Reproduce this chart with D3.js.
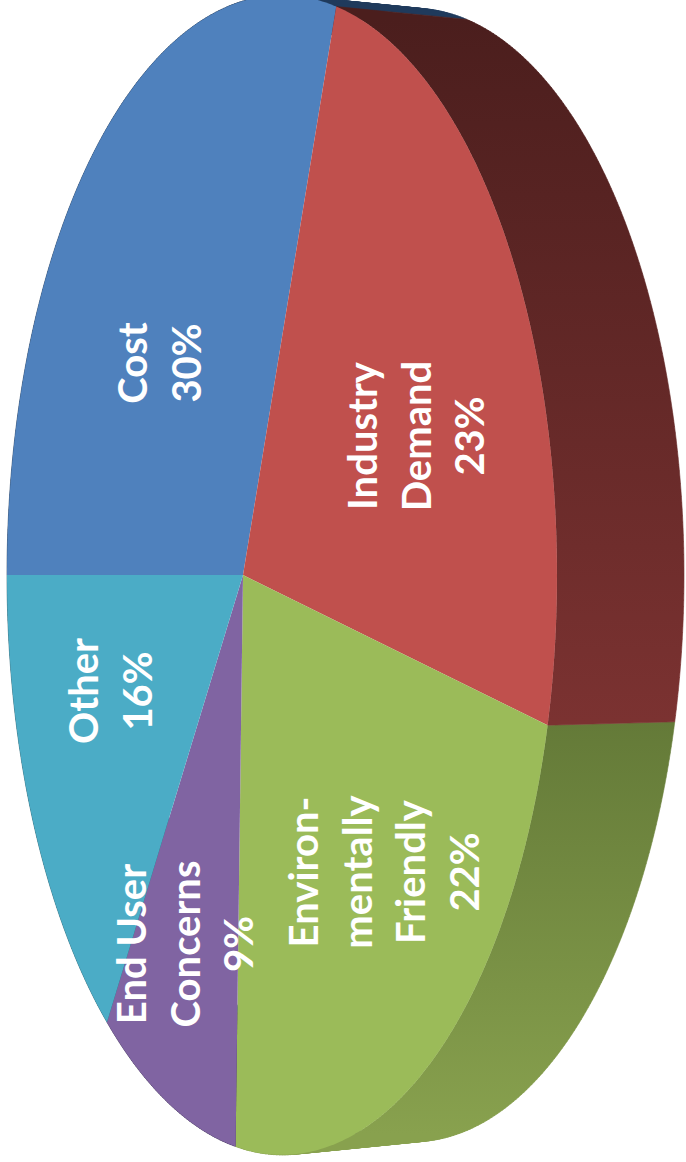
<!DOCTYPE html>
<html><head><meta charset="utf-8">
<script src="https://cdn.jsdelivr.net/npm/d3@7/dist/d3.min.js"></script>
<style>html,body{margin:0;padding:0;background:#fff;overflow:hidden}svg{display:block}</style>
</head><body><svg id="c" width="686" height="1162"></svg>
<script>
const categories = ["Cost","Industry Demand","Environmentally Friendly","End User Concerns","Other"];
const shares = [30.35,23.27,21.82,8.71,15.85];
const labelLines = [["Cost","30%"],["Industry","Demand","23%"],["Environ-","mentally","Friendly","22%"],["End User","Concerns","9%"],["Other","16%"]];
const topColors = ["#4F81BD","#C0504D","#9BBB59","#8064A2","#4BACC6"];
const wallFrom = ["#1F3A5C","#4B1E1D","#647A38","#40325A","#256070"];
const wallTo = ["#1F3A5C","#7B3231","#88A14E","#40325A","#256070"];
const labelBaseX = [147,377,318,146,98];
const labelMidY = [363,436,872,944,691];
const lineStep = 53.5;
const perspective = -0.1418;
const topFace = {ax:235, bx:243, ry:574, cy:575};
const baseFace = {ax:212, bx:375, ry:561, cy:575};

const svg = d3.select("#c");
const defs = svg.append("defs");
const pie = d3.pie().sort(null).value(d=>d).startAngle(-Math.PI/2).endAngle(Math.PI*1.5);
const arcs = pie(shares);
const project = (f,a)=>{const u=Math.sin(a),v=-Math.cos(a),w=1+perspective*u;return [(f.ax*u+f.bx)/w,f.cy+f.ry*v/w];};
const line = d3.line();
const sweep = (a0,a1)=>{const n=Math.max(2,Math.ceil(Math.abs(a1-a0)/0.01));return d3.range(n+1).map(i=>a0+(a1-a0)*i/n);};

arcs.forEach((s,i)=>{
  const g=defs.append("linearGradient").attr("id","w"+i).attr("gradientUnits","userSpaceOnUse")
    .attr("x1",0).attr("x2",0)
    .attr("y1",project(baseFace,s.startAngle)[1]).attr("y2",project(baseFace,s.endAngle)[1]);
  g.append("stop").attr("offset",0).attr("stop-color",wallFrom[i]);
  g.append("stop").attr("offset",1).attr("stop-color",wallTo[i]);
});
// walls: one path per slice, every quad wound the same way; a hairline stroke closes any slit
const walls=svg.append("g");
[4,3,0,2,1].forEach(i=>{
  const s=arcs[i],as=sweep(s.startAngle,s.endAngle);
  const d=d3.pairs(as).map(([a,b])=>{
    const q=[project(topFace,a),project(topFace,b),project(baseFace,b),project(baseFace,a)];
    if(d3.polygonArea(q)<0)q.reverse();
    return line(q)+"Z";
  }).join("");
  walls.append("path").attr("d",d).attr("fill",`url(#w${i})`).attr("fill-rule","nonzero")
    .attr("stroke",`url(#w${i})`).attr("stroke-width",0.6);
});
// top face
svg.append("g").selectAll("path").data(arcs).join("path")
  .attr("d",s=>line([[topFace.bx,topFace.cy],...sweep(s.startAngle,s.endAngle).map(a=>project(topFace,a))])+"Z")
  .attr("fill",(s,i)=>topColors[i]);
// labels
labelLines.forEach((lines,i)=>{
  lines.forEach((t,j)=>{
    svg.append("text").text(t)
      .attr("transform",`translate(${labelBaseX[i]+j*lineStep},${labelMidY[i]}) rotate(-90)`)
      .attr("text-anchor","middle").attr("fill","#fff")
      .attr("font-family","Lato, 'Open Sans', sans-serif").attr("font-weight",700).attr("font-size",40);
  });
});
</script></body></html>
